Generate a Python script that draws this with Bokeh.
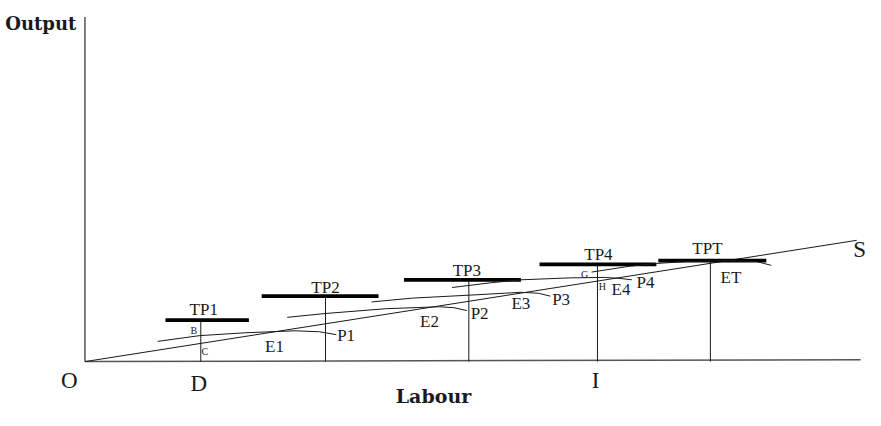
from bokeh.plotting import figure
from bokeh.models import Range1d
from bokeh.embed import file_html
from bokeh.resources import INLINE
from bokeh.core.properties import value

# ---- data (Labour on x, Output on y) ----
ray_x = [0, 786]
ray_y = [0, 126]

xaxis_x = [0, 790]
xaxis_y = [0, 2]
yaxis_x = [0, 0]
yaxis_y = [0, 358]

# drop lines from each TP plateau to the Labour axis
drop_x = [118, 245, 391, 522, 637]
drop_top = [43, 68, 85, 101, 105]

# plateau bars: level, start, end
bar_y = [43, 68, 85, 101, 105]
bar_x0 = [82, 180, 325, 463, 584]
bar_x1 = [167, 299, 444, 582, 694]

# total product curves
c1_x = [74, 117, 164, 214, 239, 256]
c1_y = [21, 27, 30, 32, 31, 28]
c2_x = [206, 245, 307, 361, 376, 389]
c2_y = [46, 50, 55, 57, 56, 53]
c3_x = [292, 334, 391, 444, 462, 474]
c3_y = [62, 66, 69, 72, 71, 68]
c4_x = [374, 414, 444, 494, 529, 544, 557]
c4_y = [77, 82, 85, 87, 87.5, 86.5, 85]
c5_x = [516, 554, 582, 614, 654, 684, 699]
c5_y = [93, 99, 102, 104, 105, 104, 100]

tp_labels = ["TP1", "TP2", "TP3", "TP4", "TPT"]
tp_x = [121, 245, 389, 523, 634]
tp_y = [54, 77, 95, 111, 118]

mid_labels = ["E1", "P1", "E2", "P2", "E3", "P3", "E4", "P4", "ET"]
mid_x = [193, 266, 351, 402, 444, 485, 546, 571, 658]
mid_y = [16, 27, 42, 50, 60, 65, 75, 82, 87]

small_labels = ["B", "C", "G", "H"]
small_x = [111, 122, 509, 527]
small_y = [32, 11, 91, 78]

axis_labels = ["O", "D", "I", "S"]
axis_lx = [-16, 116, 520, 789]
axis_ly = [-20, -23, -20, 117]

p = figure(width=865, height=410, output_backend="svg", toolbar_location=None,
           x_range=Range1d(-86, 795), y_range=Range1d(-50.8, 375.2), min_border=0)
p.axis.visible = False
p.grid.visible = False
p.outline_line_color = None
p.background_fill_color = "white"

FONT = value("Liberation Serif")
BFONT = value("DejaVu Serif")
INK = "#1a1a1a"

p.line(xaxis_x, xaxis_y, line_color="#555555", line_width=1.5)
p.line(yaxis_x, yaxis_y, line_color="#555555", line_width=1.5)
p.line(ray_x, ray_y, line_color=INK, line_width=1)

p.segment(x0=drop_x, y0=[0] * len(drop_x), x1=drop_x, y1=drop_top,
          line_color=INK, line_width=1)
p.segment(x0=bar_x0, y0=bar_y, x1=bar_x1, y1=bar_y, line_color="#000000", line_width=3.8)

for cx, cy in [(c1_x, c1_y), (c2_x, c2_y), (c3_x, c3_y), (c4_x, c4_y), (c5_x, c5_y)]:
    p.line(cx, cy, line_color=INK, line_width=1)

p.text(x=tp_x, y=tp_y, text=tp_labels, text_font=FONT, text_font_size="17px",
       text_align="center", text_baseline="middle", text_color=INK)
p.text(x=mid_x, y=mid_y, text=mid_labels, text_font=FONT, text_font_size="17px",
       text_align="center", text_baseline="middle", text_color=INK)
p.text(x=small_x, y=small_y, text=small_labels, text_font=FONT, text_font_size="10px",
       text_align="center", text_baseline="middle", text_color=INK)
p.text(x=axis_lx, y=axis_ly, text=axis_labels, text_font=FONT, text_font_size="23px",
       text_align="center", text_baseline="middle", text_color=INK)
p.text(x=[355], y=[-36], text=["Labour"], text_font=BFONT, text_font_size="19px",
       text_font_style="bold", text_align="center", text_baseline="middle", text_color=INK)
p.text(x=[-45], y=[351], text=["Output"], text_font=BFONT, text_font_size="18px",
       text_font_style="bold", text_align="center", text_baseline="middle", text_color=INK)

open("out.html", "w").write(file_html(p, INLINE))
